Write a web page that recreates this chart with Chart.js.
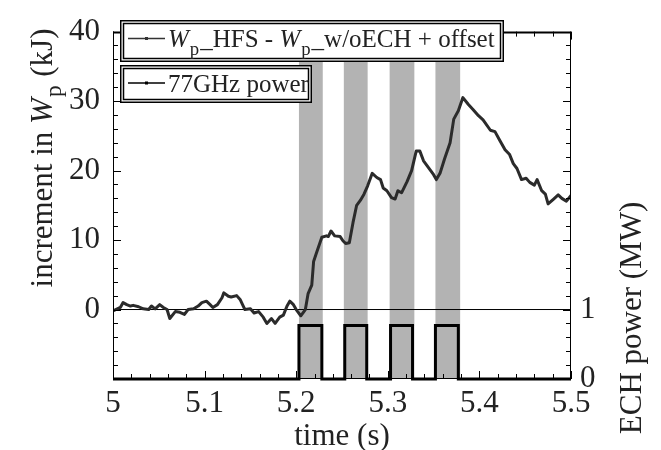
<!DOCTYPE html>
<html>
<head>
<meta charset="utf-8">
<script src="https://cdn.jsdelivr.net/npm/chart.js@4/dist/chart.umd.min.js"></script>
<style>
html,body{margin:0;padding:0;background:#fff;}
#wrap{width:661px;height:450px;}
</style>
</head>
<body>
<div id="wrap"><canvas id="c" width="661" height="450"></canvas></div>
<script>
// ---- data ----
const wpTime = [5.000,5.008,5.011,5.015,5.019,5.022,5.028,5.033,5.039,5.042,5.046,5.051,5.055,5.059,5.062,5.068,5.073,5.078,5.082,5.088,5.093,5.097,5.102,5.106,5.109,5.114,5.119,5.121,5.126,5.129,5.135,5.139,5.144,5.150,5.154,5.159,5.164,5.168,5.173,5.177,5.182,5.186,5.190,5.193,5.197,5.200,5.205,5.210,5.213,5.217,5.219,5.222,5.228,5.233,5.235,5.238,5.242,5.248,5.251,5.254,5.258,5.262,5.266,5.270,5.274,5.278,5.281,5.283,5.288,5.292,5.295,5.299,5.304,5.308,5.311,5.315,5.321,5.326,5.331,5.335,5.339,5.344,5.350,5.353,5.357,5.362,5.368,5.372,5.377,5.382,5.388,5.393,5.399,5.404,5.412,5.417,5.422,5.428,5.433,5.437,5.441,5.446,5.451,5.455,5.460,5.463,5.468,5.472,5.475,5.481,5.486,5.490,5.495,5.500];
const wpValue = [-0.2,0.3,1.0,0.7,0.5,0.6,0.4,0.1,0.0,0.5,0.1,0.7,0.3,0.0,-1.3,-0.3,-0.4,-0.7,0.0,0.1,0.5,1.0,1.2,0.7,0.3,0.7,1.7,2.4,1.9,1.8,2.0,1.4,0.0,0.1,-0.5,-0.3,-1.1,-2.0,-1.3,-2.0,-1.1,-0.8,0.5,1.2,0.7,0.0,-0.9,0.0,2.3,3.5,6.9,8.1,10.4,10.6,10.5,11.3,10.6,10.5,9.9,9.5,9.6,12.5,15.0,15.7,16.6,17.8,18.9,19.6,19.0,18.7,17.5,17.1,16.1,15.9,17.1,16.8,18.4,20.0,22.8,22.8,21.4,20.5,19.4,18.7,19.6,21.7,24.0,27.4,28.6,30.5,29.5,28.8,27.9,27.3,25.8,25.6,24.4,23.0,22.3,21.0,20.3,18.7,18.9,18.3,17.9,18.7,17.1,16.6,15.2,15.9,16.5,16.0,15.6,16.4];

const bandStart = [5.203,5.252,5.302,5.352];
const bandEnd   = [5.229,5.278,5.329,5.379];
const pulseOn   = [5.203,5.253,5.303,5.352];
const pulseOff  = [5.228,5.277,5.327,5.377];
const pulseLevel = 0.77; // MW

const xTickVals = [5,5.1,5.2,5.3,5.4,5.5];
const xTickLabels = ['5','5.1','5.2','5.3','5.4','5.5'];
const yTickVals = [-10,0,10,20,30,40];
const yTickLabels = ['','0','10','20','30','40'];
const y2TickVals = [0,1];
const y2TickLabels = ['0','1'];

const xLabel = 'time (s)';
const y2Label = 'ECH power (MW)';
const legend1 = [{t:'W',i:true},{t:'p',s:true},{t:'_HFS - '},{t:'W',i:true},{t:'p',s:true},{t:'_w/oECH + offset'}];
const legend2 = [{t:'77GHz power'}];
const yLabel = [{t:'increment in '},{t:'W',i:true},{t:'p',s:true},{t:' (kJ)'}];

// ---- build datasets from arrays ----
const wpData = wpTime.map((t,k)=>({x:t,y:wpValue[k]}));
const powerData = [{x:5,y:0}];
pulseOn.forEach((on,k)=>{
  powerData.push({x:on,y:0},{x:on,y:pulseLevel},{x:pulseOff[k],y:pulseLevel},{x:pulseOff[k],y:0});
});
powerData.push({x:5.5,y:0});
const bandData = [{x:5,y:0}];
bandStart.forEach((s,k)=>{
  bandData.push({x:s,y:0},{x:s,y:5},{x:bandEnd[k],y:5},{x:bandEnd[k],y:0});
});
bandData.push({x:5.5,y:0});

const FONT = '"Liberation Serif","DejaVu Serif",serif';
const TXT = '#222';

function richWidth(ctx, parts, size){
  let w=0;
  parts.forEach(p=>{
    const fs = p.s ? size*0.75 : size;
    ctx.font = (p.i?'italic ':'') + fs + 'px ' + FONT;
    w += ctx.measureText(p.t).width + (p.i ? 1 : 0) + (p.s ? 1 : 0);
  });
  return w;
}
function drawRich(ctx, parts, x, y, size, align){
  let w = richWidth(ctx, parts, size);
  let cx = align==='center' ? x - w/2 : x;
  ctx.textBaseline='alphabetic';
  ctx.textAlign='left';
  parts.forEach(p=>{
    const fs = p.s ? size*0.75 : size;
    ctx.font = (p.i?'italic ':'') + fs + 'px ' + FONT;
    ctx.fillText(p.t, cx, y + (p.s ? size*0.3 : 0));
    cx += ctx.measureText(p.t).width + (p.i ? 1 : 0) + (p.s ? 1 : 0);
  });
}

const decor = {
  id:'decor',
  afterDatasetsDraw(chart){
    const ctx = chart.ctx;
    const a = chart.chartArea;
    const xs = chart.scales.x, ys = chart.scales.y, y2 = chart.scales.y2;
    ctx.save();
    ctx.strokeStyle='#000';
    // frame
    ctx.lineWidth=1;
    ctx.beginPath();
    ctx.moveTo(a.left+0.5,a.top); ctx.lineTo(a.left+0.5,a.bottom);
    ctx.moveTo(a.right-0.5,a.top); ctx.lineTo(a.right-0.5,a.bottom);
    ctx.moveTo(a.left,a.bottom-0.5); ctx.lineTo(a.right,a.bottom-0.5);
    ctx.stroke();
    ctx.lineWidth=2;
    ctx.beginPath();
    ctx.moveTo(a.left,a.top+1); ctx.lineTo(a.right,a.top+1);
    ctx.stroke();
    // inward ticks
    ctx.lineWidth=1;
    ctx.beginPath();
    for(let k=0;k<=25;k++){
      const v = 5 + k*0.02;
      const px = Math.round(xs.getPixelForValue(v))+0.5;
      const len = (k%5===0)?8:5;
      ctx.moveTo(px,a.bottom); ctx.lineTo(px,a.bottom-len);
      ctx.moveTo(px,a.top); ctx.lineTo(px,a.top+len);
    }
    for(let k=0;k<=25;k++){
      const v = -10 + k*2;
      const py = Math.round(ys.getPixelForValue(v))+0.5;
      const len = (k%5===0)?8:5;
      ctx.moveTo(a.left,py); ctx.lineTo(a.left+len,py);
    }
    for(let k=0;k<=25;k++){
      const v = k*0.2;
      const py = Math.round(y2.getPixelForValue(v))+0.5;
      const len = (k%5===0)?8:5;
      ctx.moveTo(a.right,py); ctx.lineTo(a.right-len,py);
    }
    ctx.stroke();

    // legend boxes
    function box(x0,y0,x1,y1){
      ctx.fillStyle='#fff';
      ctx.fillRect(x0,y0,x1-x0,y1-y0);
      ctx.strokeStyle='#000';
      ctx.lineWidth=1.5;
      ctx.strokeRect(x0+0.75,y0+0.75,x1-x0-1.5,y1-y0-1.5);
      ctx.strokeRect(x0+3.5,y0+3.5,x1-x0-7,y1-y0-7);
    }
    function sample(y,color){
      ctx.strokeStyle=color; ctx.lineWidth=1.5;
      ctx.beginPath(); ctx.moveTo(128,y); ctx.lineTo(165,y); ctx.stroke();
      ctx.fillStyle=color; ctx.fillRect(145,y-1.5,3,3);
    }
    box(120,20,504,62);
    sample(38.5,'#333');
    ctx.fillStyle=TXT;
    drawRich(ctx, legend1, 168, 47, 25, 'left');
    box(120,65,312,103);
    sample(83,'#000');
    ctx.fillStyle=TXT;
    drawRich(ctx, legend2, 168, 92, 25, 'left');

    // axis titles
    ctx.fillStyle=TXT;
    drawRich(ctx, [{t:xLabel}], 342, 445, 31, 'center');
    ctx.save();
    ctx.translate(52,158);
    ctx.rotate(-Math.PI/2);
    drawRich(ctx, yLabel, 0, 0, 31, 'center');
    ctx.restore();
    ctx.save();
    ctx.translate(641,318);
    ctx.rotate(-Math.PI/2);
    drawRich(ctx, [{t:y2Label}], 0, 0, 31, 'center');
    ctx.restore();
    ctx.restore();
  }
};

new Chart(document.getElementById('c'), {
  type:'line',
  data:{
    datasets:[
      {label:'bands', data:bandData, yAxisID:'y2', borderWidth:0, borderColor:'rgba(0,0,0,0)', backgroundColor:'#b3b3b3', fill:'origin', pointRadius:0, tension:0, order:4},
      {label:'zero', data:[{x:5,y:0},{x:5.5,y:0}], yAxisID:'y', borderColor:'#000', borderWidth:1, pointRadius:0, fill:false, order:3},
      {label:'77GHz power', data:powerData, yAxisID:'y2', borderColor:'#000', borderWidth:3, pointRadius:0, fill:false, order:2, clip:4},
      {label:'Wp', data:wpData, yAxisID:'y', borderColor:'#2b2b2b', borderWidth:3, pointRadius:0, fill:false, order:1, borderJoinStyle:'round'}
    ]
  },
  options:{
    responsive:false, animation:false, devicePixelRatio:1,
    layout:{padding:{top:17,left:0,right:0,bottom:0}},
    plugins:{legend:{display:false}, tooltip:{enabled:false}},
    scales:{
      x:{type:'linear', min:5, max:5.5,
         grid:{display:false, drawTicks:false}, border:{display:false},
         afterBuildTicks:s=>{s.ticks = xTickVals.map(v=>({value:v}));},
         afterFit:s=>{s.height=71;},
         ticks:{padding:6, maxRotation:0, autoSkip:false, color:TXT, font:{family:FONT,size:31},
                callback:(v)=>{const i=xTickVals.findIndex(t=>Math.abs(t-v)<1e-6); return i>=0?xTickLabels[i]:'';}}},
      y:{type:'linear', position:'left', min:-10, max:40,
         grid:{display:false, drawTicks:false}, border:{display:false},
         afterBuildTicks:s=>{s.ticks = yTickVals.map(v=>({value:v}));},
         afterFit:s=>{s.width=113;},
         ticks:{padding:13, autoSkip:false, color:TXT, font:{family:FONT,size:31},
                callback:(v)=>{const i=yTickVals.indexOf(v); return i>=0?yTickLabels[i]:'';}}},
      y2:{type:'linear', position:'right', min:0, max:5,
         grid:{display:false, drawTicks:false}, border:{display:false},
         afterBuildTicks:s=>{s.ticks = y2TickVals.map(v=>({value:v}));},
         afterFit:s=>{s.width=90;},
         ticks:{padding:9, autoSkip:false, color:TXT, font:{family:FONT,size:31},
                callback:(v)=>{const i=y2TickVals.indexOf(v); return i>=0?y2TickLabels[i]:'';}}}
    }
  },
  plugins:[decor]
});
</script>
</body>
</html>
